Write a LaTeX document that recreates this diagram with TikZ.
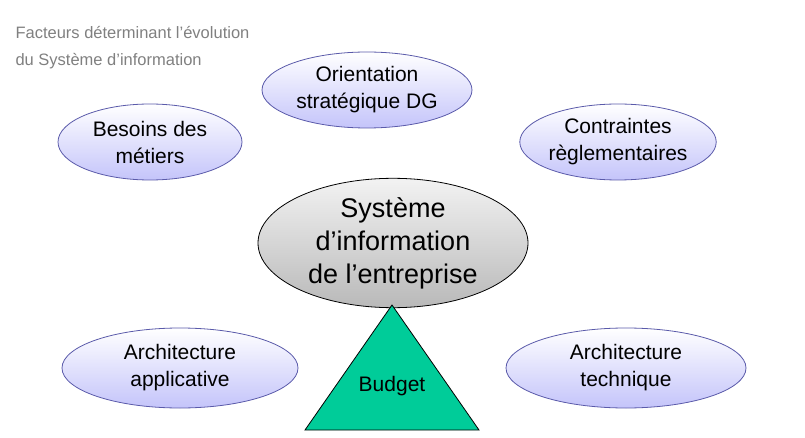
\documentclass[tikz,border=0pt]{standalone}
\usepackage{fontspec}
\setmainfont{Liberation Sans}
\usetikzlibrary{shapes.geometric}
\definecolor{lav}{RGB}{196,196,250}
\definecolor{lavline}{RGB}{90,90,170}
\definecolor{budgetgreen}{RGB}{0,204,153}
\tikzset{
  factor/.style={ellipse, draw=lavline, thick, top color=white, bottom color=lav,
    align=center, font=\fontsize{21}{27}\selectfont, inner sep=0pt},
}
\begin{document}
\begin{tikzpicture}[x=1pt, y=-1pt]
  \useasboundingbox (0,0) rectangle (805,438);
  \node [anchor=west, align=left, text=gray, font=\fontsize{16.5}{27}\selectfont] (title) at (12,48)
    {Facteurs déterminant l’évolution\\du Système d’information};
  \node [factor, minimum width=210, minimum height=76] (orient) at (367,90) {Orientation\\stratégique DG};
  \node [factor, minimum width=184, minimum height=76] (besoins) at (150,142) {Besoins des\\métiers};
  \node [factor, minimum width=190, minimum height=76] (contr) at (618,142) {Contraintes\\règlementaires};
  \node [factor, minimum width=236, minimum height=80] (archapp) at (180,368) {Architecture\\applicative};
  \node [factor, minimum width=240, minimum height=80] (archtech) at (626,368) {Architecture\\technique};
  \node [ellipse, draw=black, thick, top color=gray!10, bottom color=gray!55,
    minimum width=270, minimum height=124, align=center,
    font=\fontsize{27}{33}\selectfont, inner sep=0pt] (si) at (393,243)
    {Système\\d’information\\de l’entreprise};
  \coordinate (apex) at (392,305);
  \coordinate (bl) at (305,430);
  \coordinate (br) at (479,430);
  \draw [thick, fill=budgetgreen] (apex) -- (bl) -- (br) -- cycle;
  \node [font=\fontsize{21}{25}\selectfont] (budget) at (392,386) {Budget};
\end{tikzpicture}
\end{document}
